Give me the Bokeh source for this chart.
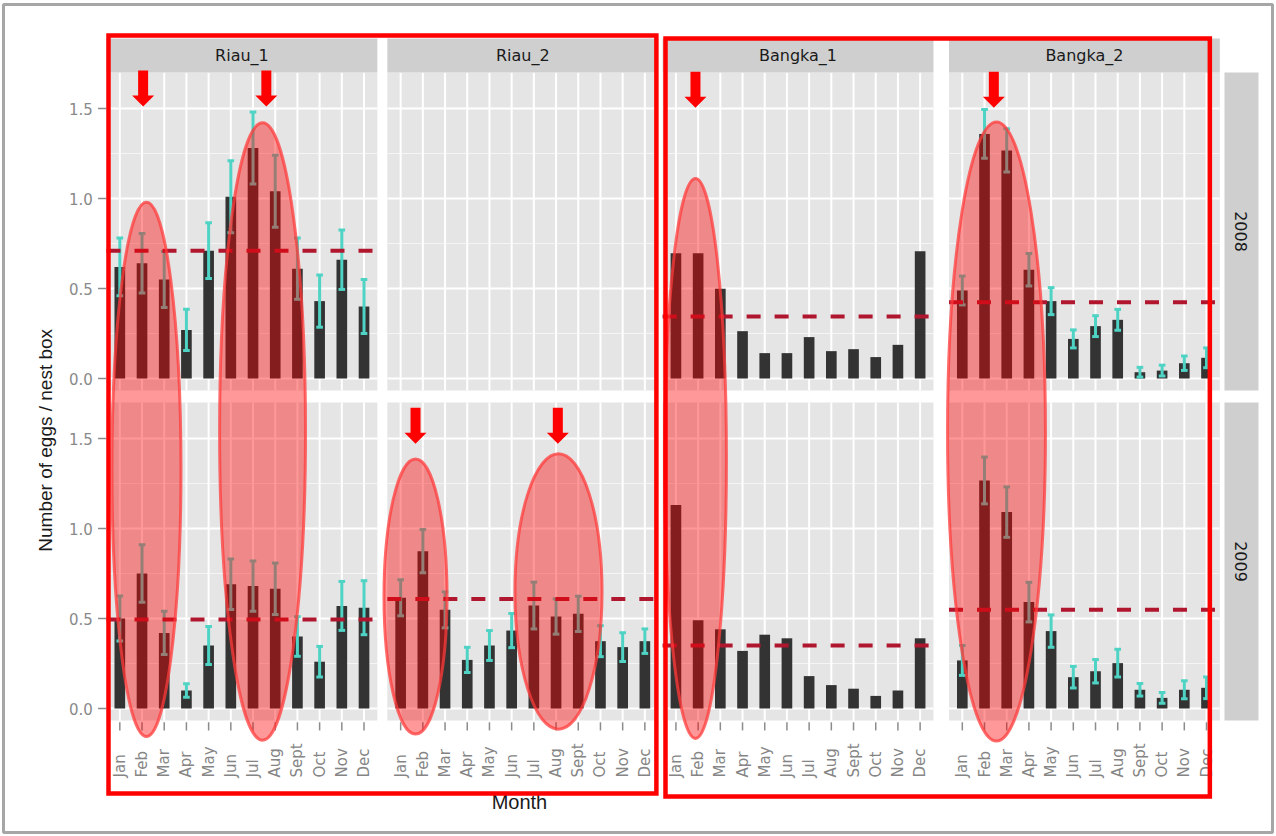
import numpy as np
from bokeh.plotting import figure
from bokeh.models import Range1d
from bokeh.embed import file_html
from bokeh.resources import INLINE
from bokeh.core.properties import value

# ---------------- data ----------------
months = ["Jan", "Feb", "Mar", "Apr", "May", "Jun", "Jul", "Aug", "Sept", "Oct", "Nov", "Dec"]
sites = ["Riau_1", "Riau_2", "Bangka_1", "Bangka_2"]
years = ["2008", "2009"]
y_ticks = [0.0, 0.5, 1.0, 1.5]
y_tick_labels = ["0.0", "0.5", "1.0", "1.5"]

riau1_2008 = [0.62, 0.64, 0.55, 0.27, 0.71, 1.01, 1.28, 1.04, 0.61, 0.43, 0.66, 0.40]
riau1_2008_se = [0.16, 0.165, 0.155, 0.115, 0.155, 0.20, 0.20, 0.20, 0.17, 0.145, 0.165, 0.15]
riau1_2009 = [0.50, 0.75, 0.42, 0.10, 0.35, 0.69, 0.68, 0.665, 0.40, 0.26, 0.57, 0.56]
riau1_2009_se = [0.125, 0.16, 0.12, 0.037, 0.105, 0.14, 0.14, 0.143, 0.11, 0.085, 0.136, 0.15]
riau2_2009 = [0.615, 0.874, 0.548, 0.27, 0.35, 0.433, 0.572, 0.511, 0.526, 0.374, 0.341, 0.374]
riau2_2009_se = [0.10, 0.12, 0.10, 0.07, 0.083, 0.095, 0.13, 0.098, 0.098, 0.086, 0.08, 0.068]
bangka1_2008 = [0.696, 0.696, 0.498, 0.263, 0.141, 0.141, 0.230, 0.152, 0.163, 0.119, 0.187, 0.707]
bangka1_2009 = [1.13, 0.49, 0.44, 0.32, 0.41, 0.39, 0.18, 0.13, 0.11, 0.07, 0.10, 0.39]
bangka2_2008 = [0.489, 1.359, 1.267, 0.604, 0.43, 0.22, 0.291, 0.326, 0.035, 0.044, 0.085, 0.115]
bangka2_2008_se = [0.08, 0.135, 0.12, 0.09, 0.075, 0.05, 0.058, 0.058, 0.027, 0.03, 0.04, 0.055]
bangka2_2009 = [0.267, 1.267, 1.091, 0.591, 0.43, 0.174, 0.207, 0.252, 0.104, 0.059, 0.104, 0.115]
bangka2_2009_se = [0.083, 0.13, 0.14, 0.11, 0.09, 0.06, 0.065, 0.077, 0.035, 0.03, 0.05, 0.06]

# overall means (dashed lines)
mean_lines = {
    ("Riau_1", "2008"): 0.71, ("Riau_1", "2009"): 0.494,
    ("Riau_2", "2009"): 0.609,
    ("Bangka_1", "2008"): 0.344, ("Bangka_1", "2009"): 0.35,
    ("Bangka_2", "2008"): 0.424, ("Bangka_2", "2009"): 0.548,
}

series = {
    ("Riau_1", "2008"): (riau1_2008, riau1_2008_se),
    ("Riau_1", "2009"): (riau1_2009, riau1_2009_se),
    ("Riau_2", "2009"): (riau2_2009, riau2_2009_se),
    ("Bangka_1", "2008"): (bangka1_2008, None),
    ("Bangka_1", "2009"): (bangka1_2009, None),
    ("Bangka_2", "2008"): (bangka2_2008, bangka2_2008_se),
    ("Bangka_2", "2009"): (bangka2_2009, bangka2_2009_se),
}

# ---------------- layout (facet grid in data units) ----------------
PX_X = 22.2      # pixels per month unit
PX_Y = 180.0     # pixels per egg unit
panel_x0 = {"Riau_1": 0.0, "Riau_2": 12.65, "Bangka_1": 25.05, "Bangka_2": 37.95}
PANEL_W = 12.2
row_y0 = {"2008": 1.8333, "2009": 0.0}
Y_LO, Y_HI = -0.0667, 1.70
STRIP_H = 34 / PX_Y
RSTRIP_X0 = 50.36
RSTRIP_W = 34 / PX_X

def mx(site, i):
    return panel_x0[site] + 0.6 + i

p = figure(width=1276, height=836,
           x_range=Range1d(-106 / PX_X, 1170 / PX_X),
           y_range=Range1d(-128 / PX_Y, 708 / PX_Y),
           min_border=0, x_axis_location=None, y_axis_location=None,
           toolbar_location=None, output_backend="svg",
           background_fill_color="white", border_fill_color="white",
           outline_line_color=None)
p.grid.visible = False

# outer image border
p.quad(left=[-103 / PX_X], right=[1166 / PX_X], top=[704 / PX_Y], bottom=[-124 / PX_Y],
       fill_color=None, line_color="#a6a6a6", line_width=3)

# panel backgrounds
L, R, B, T = [], [], [], []
for s in sites:
    for yr in years:
        L.append(panel_x0[s]); R.append(panel_x0[s] + PANEL_W)
        B.append(row_y0[yr] + Y_LO); T.append(row_y0[yr] + Y_HI)
p.quad(left=L, right=R, bottom=B, top=T, fill_color="#e5e5e5", line_color=None)

# grid lines
gx0, gx1, gy0, gy1 = [], [], [], []
minor = [0.25, 0.75, 1.25]
for s in sites:
    for yr in years:
        ry = row_y0[yr]
        for v in minor:
            gx0.append(panel_x0[s]); gx1.append(panel_x0[s] + PANEL_W)
            gy0.append(ry + v); gy1.append(ry + v)
p.segment(x0=gx0, y0=gy0, x1=gx1, y1=gy1, line_color="#f5f5f5", line_width=1.2)
gx0, gx1, gy0, gy1 = [], [], [], []
for s in sites:
    for yr in years:
        ry = row_y0[yr]
        for v in y_ticks:
            gx0.append(panel_x0[s]); gx1.append(panel_x0[s] + PANEL_W)
            gy0.append(ry + v); gy1.append(ry + v)
        for i in range(len(months)):
            gx0.append(mx(s, i)); gx1.append(mx(s, i))
            gy0.append(ry + Y_LO); gy1.append(ry + Y_HI)
p.segment(x0=gx0, y0=gy0, x1=gx1, y1=gy1, line_color="white", line_width=2)

# strips (top)
p.quad(left=[panel_x0[s] for s in sites], right=[panel_x0[s] + PANEL_W for s in sites],
       bottom=[row_y0["2008"] + Y_HI] * 4, top=[row_y0["2008"] + Y_HI + STRIP_H] * 4,
       fill_color="#cfcfcf", line_color=None)
p.text(x=[panel_x0[s] + PANEL_W / 2 for s in sites], y=[row_y0["2008"] + Y_HI + STRIP_H / 2] * 4,
       text=sites, text_align="center", text_baseline="middle",
       text_font=value("DejaVu Sans"), text_font_size="16px", text_color="#1a1a1a")
# strips (right)
p.quad(left=[RSTRIP_X0] * 2, right=[RSTRIP_X0 + RSTRIP_W] * 2,
       bottom=[row_y0[y] + Y_LO for y in years], top=[row_y0[y] + Y_HI for y in years],
       fill_color="#cfcfcf", line_color=None)
p.text(x=[RSTRIP_X0 + RSTRIP_W / 2] * 2, y=[row_y0[y] + (Y_LO + Y_HI) / 2 for y in years],
       text=years, angle=-np.pi / 2, text_align="center", text_baseline="middle",
       text_font=value("DejaVu Sans"), text_font_size="16px", text_color="#1a1a1a")

# bars
bx, btop, bbot = [], [], []
for (s, yr), (vals, se) in series.items():
    for i, v in enumerate(vals):
        bx.append(mx(s, i)); btop.append(row_y0[yr] + v); bbot.append(row_y0[yr])
p.vbar(x=bx, top=btop, bottom=bbot, width=0.48, fill_color="#333333", line_color=None)

# error bars
ex0, ey0, ex1, ey1 = [], [], [], []
CAP = 0.15
for (s, yr), (vals, se) in series.items():
    if se is None:
        continue
    for i, (v, e) in enumerate(zip(vals, se)):
        x = mx(s, i); lo = row_y0[yr] + v - e; hi = row_y0[yr] + v + e
        ex0 += [x, x - CAP, x - CAP]; ex1 += [x, x + CAP, x + CAP]
        ey0 += [lo, lo, hi]; ey1 += [hi, lo, hi]
p.segment(x0=ex0, y0=ey0, x1=ex1, y1=ey1, line_color="#4fd3c4", line_width=3)

# dashed mean lines
mx0, mx1, my = [], [], []
for (s, yr), m in mean_lines.items():
    mx0.append(panel_x0[s]); mx1.append(panel_x0[s] + PANEL_W); my.append(row_y0[yr] + m)
p.segment(x0=mx0, y0=my, x1=mx1, y1=my, line_color="#b0162e", line_width=4, line_dash="14 14")

# axis ticks and labels (y, both rows)
tx0, tx1, ty = [], [], []
lab_y, lab_t = [], []
for yr in years:
    for v, t in zip(y_ticks, y_tick_labels):
        tx0.append(-0.38); tx1.append(-0.02); ty.append(row_y0[yr] + v)
        lab_y.append(row_y0[yr] + v); lab_t.append(t)
p.segment(x0=tx0, y0=ty, x1=tx1, y1=ty, line_color="#8c8c8c", line_width=1.5)
p.text(x=[-0.62] * len(lab_t), y=lab_y, text=lab_t, text_align="right", text_baseline="middle",
       text_font=value("DejaVu Sans"), text_font_size="15px", text_color="#8a8a8a")

# x ticks and month labels
xt, xl = [], []
for s in sites:
    for i, m in enumerate(months):
        xt.append(mx(s, i)); xl.append(m)
p.segment(x0=xt, y0=[Y_LO - 0.01] * len(xt), x1=xt, y1=[Y_LO - 0.055] * len(xt),
          line_color="#8c8c8c", line_width=1.5)
p.text(x=xt, y=[-0.383] * len(xt), text=xl, angle=np.pi / 2, text_align="left",
       text_baseline="middle", text_font=value("DejaVu Sans"), text_font_size="15px",
       text_color="#858585")

# axis titles
p.text(x=[-2.75], y=[1.49], text=["Number of eggs / nest box"], angle=np.pi / 2,
       text_align="center", text_baseline="middle", text_font=value("Liberation Sans"),
       text_font_size="19px", text_color="#1a1a1a")
p.text(x=[panel_x0["Riau_2"] + 5.95], y=[-0.517], text=["Month"], text_align="center",
       text_baseline="middle", text_font=value("Liberation Sans"), text_font_size="20px",
       text_color="#1a1a1a")

# ---------------- highlight annotations ----------------
# ellipses: (site, month offset of centre, centre y, width in months, height in egg units)
ell = [
    ("Riau_1", 1.2, 1.328, 3.11, 2.97),
    ("Riau_1", 6.43, 1.539, 3.87, 3.43),
    ("Riau_2", 0.67, 0.622, 2.84, 1.53),
    ("Riau_2", 7.11, 0.650, 3.92, 1.53),
    ("Bangka_1", 0.88, 1.389, 2.79, 3.11),
    ("Bangka_2", 1.54, 1.539, 4.41, 3.44),
]
p.ellipse(x=[panel_x0[s] + 0.6 + o for s, o, _, _, _ in ell], y=[e[2] for e in ell],
          width=[e[3] for e in ell], height=[e[4] for e in ell],
          fill_color="#ff0000", fill_alpha=0.4, line_color="#ff3b3b", line_alpha=0.75,
          line_width=3)

# arrows: (site, month offset, tip y)
arrows = [
    ("Riau_1", 1.05, 3.344), ("Riau_1", 6.6, 3.344),
    ("Riau_2", 0.67, 1.471), ("Riau_2", 7.08, 1.471),
    ("Bangka_1", 0.88, 3.337), ("Bangka_2", 1.42, 3.337),
]
axs, ays = [], []
for s, o, tip in arrows:
    cx = panel_x0[s] + 0.6 + o
    sw, hw = 5 / PX_X, 11 / PX_X
    hh, sh = 11 / PX_Y, 36 / PX_Y
    axs.append([cx - sw, cx + sw, cx + sw, cx + hw, cx, cx - hw, cx - sw])
    ays.append([tip + sh, tip + sh, tip + hh, tip + hh, tip, tip + hh, tip + hh])
p.patches(xs=axs, ys=ays, fill_color="#ff0000", line_color=None)

# group rectangles
p.quad(left=[panel_x0["Riau_1"] + 0.09, panel_x0["Bangka_1"] + 0.13],
       right=[panel_x0["Riau_2"] + PANEL_W - 0.08, panel_x0["Bangka_2"] + PANEL_W - 0.45],
       bottom=[-0.472, -0.489], top=[3.739, 3.722],
       fill_color=None, line_color="#ff0000", line_width=4.5, line_join="miter")

open("out.html", "w").write(file_html(p, INLINE))
